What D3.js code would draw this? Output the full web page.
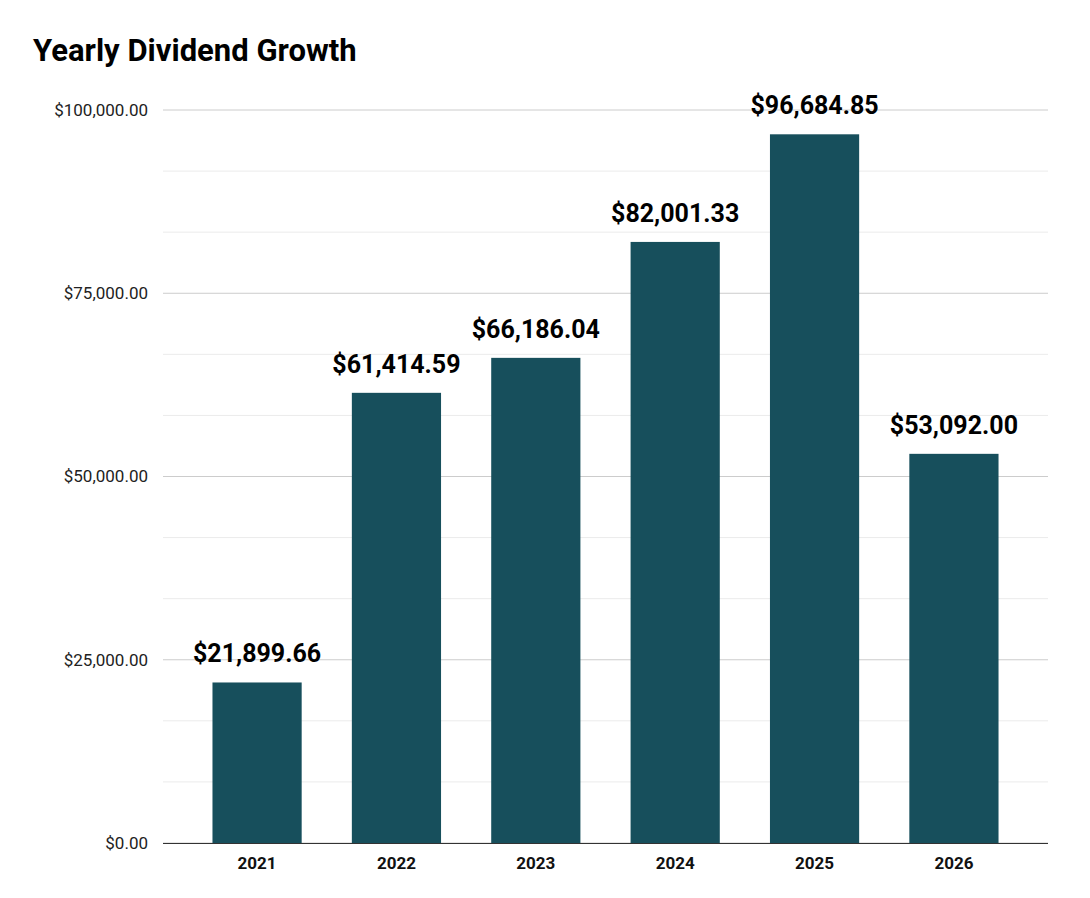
<!DOCTYPE html>
<html>
<script src="https://d3js.org/d3.v7.min.js"></script>
<body style="margin:0;background:#fff">
<svg id="chart" width="1090" height="898"></svg>
<script>
const years = ['2021', '2022', '2023', '2024', '2025', '2026'];
const dividends = [21899.66, 61414.59, 66186.04, 82001.33, 96684.85, 53092.00];
const yTicks = [0, 25000, 50000, 75000, 100000];

const svg = d3.select('#chart');
const font = 'Roboto, Arial, sans-serif';
const plotLeft = 163, plotRight = 1048, plotTop = 110, plotBottom = 843;

const x = d3.scaleBand().domain(years).range([plotLeft, plotRight]).paddingInner(0.36).paddingOuter(0.355);
const y = d3.scaleLinear().domain([0, 100000]).range([plotBottom, plotTop]);
const money = d => '$' + d3.format(',.2f')(d);

svg.append('text').attr('x', 33).attr('y', 61)
   .attr('font-family', font).attr('font-weight', 'bold').attr('font-size', 31)
   .text('Yearly Dividend Growth');

// gridlines: major every 25k, minor in between
svg.append('g').selectAll('line')
   .data(d3.range(0, 100001, 25000 / 3))
   .join('line')
     .attr('x1', plotLeft).attr('x2', plotRight)
     .attr('y1', d => y(d)).attr('y2', d => y(d))
     .attr('stroke', (d, i) => i % 3 === 0 ? '#cccccc' : '#ebebeb')
     .attr('stroke-width', 1);

svg.append('g')
   .attr('transform', `translate(${plotLeft - 12},0)`)
   .call(d3.axisLeft(y).tickValues(yTicks).tickFormat(money).tickSize(0))
   .call(g => g.select('.domain').remove())
   .call(g => g.selectAll('text').attr('font-family', font).attr('font-size', 17).attr('fill', '#222'));

svg.append('g').selectAll('rect')
   .data(dividends)
   .join('rect')
     .attr('x', (d, i) => x(years[i]))
     .attr('y', d => y(d))
     .attr('width', x.bandwidth())
     .attr('height', d => y(0) - y(d))
     .attr('fill', '#174f5c');

svg.append('g').selectAll('text')
   .data(dividends)
   .join('text')
     .attr('x', (d, i) => x(years[i]) + x.bandwidth() / 2)
     .attr('y', d => y(d) - 20)
     .attr('text-anchor', 'middle')
     .attr('font-family', font).attr('font-weight', 'bold').attr('font-size', 25)
     .text(money);

svg.append('line').attr('x1', plotLeft).attr('x2', plotRight)
   .attr('y1', plotBottom + 0.5).attr('y2', plotBottom + 0.5).attr('stroke', '#333');

svg.append('g')
   .attr('transform', `translate(0,${plotBottom})`)
   .call(d3.axisBottom(x).tickSize(0).tickPadding(14))
   .call(g => g.select('.domain').remove())
   .call(g => g.selectAll('text').attr('font-family', font).attr('font-weight', 'bold').attr('font-size', 17).attr('fill', '#111'));
</script>
</body>
</html>
